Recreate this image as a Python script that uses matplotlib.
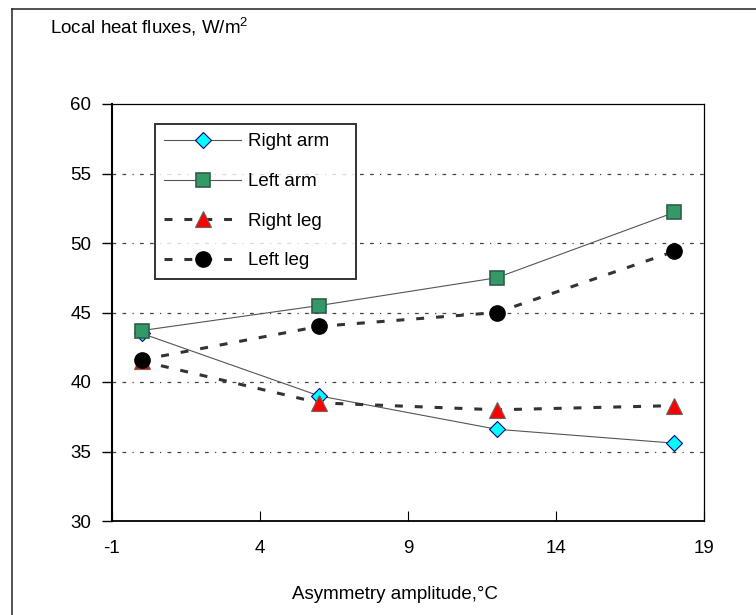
import matplotlib
matplotlib.use("Agg")
import matplotlib.pyplot as plt
from matplotlib.lines import Line2D

plt.rcParams['font.family'] = ['Liberation Sans', 'DejaVu Sans']
plt.rcParams['mathtext.fontset'] = 'custom'
plt.rcParams['mathtext.rm'] = 'Liberation Sans'
plt.rcParams['axes.unicode_minus'] = False

# data
amplitude = [0, 6, 12, 18]
right_arm = [43.5, 39.0, 36.6, 35.6]
left_arm = [43.7, 45.5, 47.5, 52.2]
right_leg = [41.5, 38.5, 38.0, 38.3]
left_leg = [41.6, 44.0, 45.0, 49.4]

x_ticks = [-1, 4, 9, 14, 19]
y_ticks = [30, 35, 40, 45, 50, 55, 60]

W, H = 756, 615
fig = plt.figure(figsize=(W / 100, H / 100), dpi=100)
ax = fig.add_axes([112 / W, 1 - 521 / H, (704 - 112) / W, (521 - 104) / H])

dash = (0, (2.6, 3.9))
ax.plot(amplitude, right_arm, color='#555555', lw=0.8, marker='D', ms=8,
        mfc='#00ffff', mec='#000080', mew=0.8, label='Right arm', zorder=3)
ax.plot(amplitude, left_arm, color='#555555', lw=0.8, marker='s', ms=10.5,
        mfc='#339966', mec='#2f5f48', mew=1.2, label='Left arm', zorder=3)
ax.plot(amplitude, right_leg, color='#333333', lw=2.2, ls=dash, marker='^',
        ms=11, mfc='#ff0000', mec='#666666', mew=0.8, label='Right leg',
        zorder=3)
ax.plot(amplitude, left_leg, color='#333333', lw=2.2, ls=dash, marker='o',
        ms=11, mfc='black', mec='black', label='Left leg', zorder=3)

ax.set_xlim(-1, 19)
ax.set_ylim(30, 60)
ax.set_xticks(x_ticks)
ax.set_yticks(y_ticks)

# dash-dot style horizontal grid
for v in y_ticks[1:-1]:
    ax.axhline(v, color='#444444', lw=0.9, ls=(0, (3, 5, 3, 5, 1, 5)),
               zorder=1)

for s in ax.spines.values():
    s.set_color('black')
    s.set_linewidth(0.9)
ax.spines['left'].set_linewidth(1.5)
ax.spines['bottom'].set_linewidth(1.3)

ax.tick_params(axis='y', direction='out', length=7, width=1, pad=8,
               labelsize=13.5)
ax.tick_params(axis='x', direction='in', length=7, width=0.8, pad=14,
               labelsize=13.5)

leg = ax.legend(loc='upper left',
                bbox_to_anchor=(155 / W, 1 - 276 / H, 201 / W, 152 / H),
                bbox_transform=fig.transFigure, borderaxespad=0,
                mode='expand', fontsize=13.5, frameon=True, fancybox=False,
                handlelength=4.1, handletextpad=0.35, labelspacing=1.2,
                borderpad=0.5)
leg.get_frame().set_edgecolor('black')
leg.get_frame().set_linewidth(1.4)

fig.text(50 / W, 1 - 33 / H, r'Local heat fluxes, W/m$^{2}$', fontsize=13.5,
         va='baseline', ha='left')
fig.text(395 / W, 1 - 599 / H, 'Asymmetry amplitude,°C', fontsize=13.5,
         va='baseline', ha='center')

# outer chart frame (left and top edges visible)
fig.add_artist(Line2D([12 / W, 12 / W], [0, 1 - 9 / H], color='#333333',
                      lw=1.2, transform=fig.transFigure))
fig.add_artist(Line2D([12 / W, 1], [1 - 9 / H, 1 - 9 / H], color='#333333',
                      lw=1.2, transform=fig.transFigure))

plt.savefig('out.png', dpi=100)
